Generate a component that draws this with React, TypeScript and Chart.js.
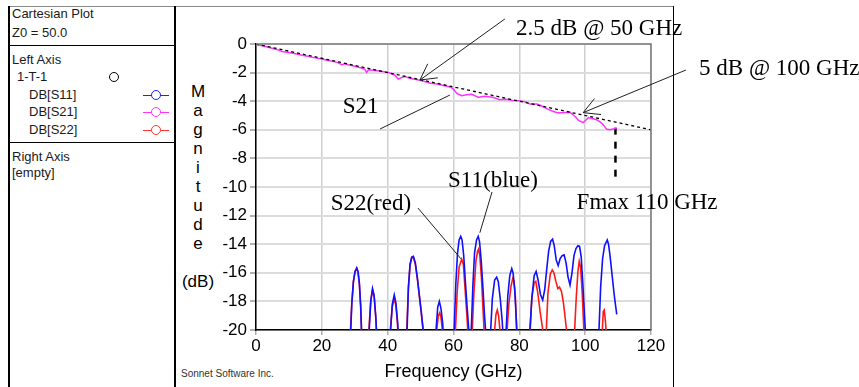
import React, { useEffect, useRef } from "react";
import { Chart, registerables } from "chart.js";

Chart.register(...registerables);

// ---------------- data ----------------
const freqRange = [0, 120];
const freqStep = 20;
const dbRange = [-20, 0];
const dbStep = 2;

// DB[S21] (magenta)
const s21Freq = [0, 2, 4, 6, 8, 10, 12, 14, 16, 18, 20, 22, 24, 25, 26, 27, 28, 30, 32, 33, 33.6, 34.2, 36, 38, 40, 42, 43.2, 44.2, 45.3, 47, 49, 51, 53, 55, 57, 59, 60, 61, 62.5, 64, 65.5, 67.5, 69.6, 72, 74, 76, 78, 80, 82, 83.2, 85.3, 86.5, 88.3, 90, 91.5, 93, 95.4, 96.9, 98, 99.4, 100.3, 101, 103.5, 104.5, 105.5, 106.5, 107.5, 108.5, 109.6];
const s21Db = [-0.05, -0.12, -0.25, -0.36, -0.52, -0.6, -0.68, -0.78, -0.88, -0.97, -1.05, -1.15, -1.25, -1.32, -1.45, -1.38, -1.45, -1.55, -1.68, -1.75, -1.98, -1.8, -1.85, -1.9, -1.98, -2.15, -2.45, -2.35, -2.28, -2.42, -2.5, -2.6, -2.75, -2.8, -2.9, -3.0, -3.15, -3.45, -3.62, -3.55, -3.52, -3.72, -3.66, -3.73, -3.9, -3.86, -3.95, -3.97, -4.05, -4.2, -4.2, -4.3, -4.52, -4.68, -4.8, -4.8, -4.78, -5.05, -5.35, -5.5, -5.3, -5.15, -5.3, -5.45, -5.65, -5.95, -6.0, -5.95, -5.9];

// DB[S11] (blue) as [GHz, dB]
const s11Points = [
  [28.0, -30], [28.7, -20.5], [29.1, -18.2], [29.6, -16.6], [30.1, -15.9], [30.6, -15.65], [31.0, -15.9], [31.4, -16.7], [31.8, -18.3], [32.1, -20.3], [32.4, -30],
  [34.0, -30], [34.4, -20], [34.9, -17.9], [35.4, -17.1], [35.9, -17.6], [36.4, -19.1], [36.8, -21], [37.2, -30],
  [40.5, -30], [40.9, -20], [41.4, -18.2], [42.0, -17.55], [42.5, -18.1], [43.0, -19.4], [43.4, -21], [43.8, -30],
  [45.5, -30], [45.9, -20], [46.3, -17], [46.8, -15.4], [47.3, -14.9], [47.8, -14.85], [48.4, -15.3], [49.0, -16.3], [49.6, -17.5], [50.2, -18.7], [50.7, -19.8], [51.1, -21], [51.5, -30],
  [54.2, -30], [54.7, -20], [55.2, -18.4], [55.7, -18.0], [56.2, -18.5], [56.7, -19.5], [57.1, -21], [57.5, -30],
  [59.8, -30], [60.2, -20], [60.7, -16.8], [61.2, -14.7], [61.7, -13.7], [62.2, -13.45], [62.6, -13.7], [63.1, -14.8], [63.6, -16.6], [64.2, -18.6], [64.8, -20.5],
  [65.0, -24], [65.4, -20], [65.9, -16.8], [66.4, -14.6], [67.0, -13.7], [67.5, -13.45], [67.9, -13.8], [68.4, -15.1], [68.9, -16.9], [69.4, -18.9], [69.9, -20.5], [70.3, -30],
  [71.0, -30], [71.3, -20], [71.8, -17.8], [72.5, -16.5], [73.1, -16.3], [73.6, -16.6], [74.2, -17.8], [74.8, -19.4], [75.2, -21], [75.6, -24],
  [76.0, -20], [76.5, -17.6], [77.1, -16.2], [77.7, -15.7], [78.1, -16.0], [78.6, -17.2], [79.1, -19.4], [79.4, -21], [79.8, -30],
  [82.8, -30], [83.2, -20], [83.8, -17.8], [84.5, -16.2], [85.1, -15.9], [85.7, -16.5], [86.4, -17.5], [87.1, -17.9], [87.7, -17.2], [88.3, -15.8], [88.9, -14.5], [89.5, -13.8], [90.1, -13.65], [90.6, -14.1], [91.2, -15.1], [91.8, -15.5], [92.4, -15.0], [93.0, -14.8], [93.6, -14.75], [94.2, -15.3], [94.8, -16.3], [95.4, -16.85], [96.0, -16.0], [96.6, -14.8], [97.2, -14.3], [97.8, -14.1], [98.3, -14.15], [98.8, -14.9], [99.3, -16.8], [99.8, -19], [100.3, -21], [100.7, -30],
  [103.8, -30], [104.2, -20], [104.7, -17], [105.3, -15], [105.9, -14.1], [106.3, -13.9], [106.7, -13.7], [107.1, -14.0], [107.6, -14.9], [108.2, -16.2], [108.8, -17.5], [109.3, -18.4], [109.6, -18.9],
];

// DB[S22] (red) as [GHz, dB]
const s22Points = [
  [28.0, -30], [28.6, -20.5], [29.1, -18.1], [29.6, -16.6], [30.1, -15.9], [30.6, -15.7], [31.0, -16.0], [31.4, -16.8], [31.8, -18.4], [32.1, -20.4], [32.4, -30],
  [34.0, -30], [34.3, -20], [34.8, -18.1], [35.4, -17.2], [35.9, -17.7], [36.4, -19.2], [36.8, -21], [37.2, -30],
  [40.5, -30], [40.8, -20], [41.4, -18.4], [42.0, -17.8], [42.5, -18.3], [43.0, -19.6], [43.3, -21], [43.8, -30],
  [45.5, -30], [45.8, -20], [46.3, -17.1], [46.8, -15.5], [47.3, -14.95], [47.8, -14.9], [48.4, -15.4], [49.0, -16.4], [49.6, -17.6], [50.2, -18.8], [50.7, -19.9], [51.1, -21], [51.5, -30],
  [54.5, -30], [54.9, -20], [55.4, -19.0], [55.8, -18.8], [56.2, -19.1], [56.7, -20.2], [57.1, -30],
  [60.3, -30], [60.6, -20], [61.1, -17.4], [61.7, -15.6], [62.5, -15.05], [63.0, -15.4], [63.5, -17.1], [64.1, -19.1], [64.6, -21], [65.0, -30],
  [65.4, -30], [65.7, -20], [66.2, -17.4], [66.8, -15.2], [67.3, -14.5], [67.6, -14.35], [68.0, -14.8], [68.5, -16.4], [69.0, -18.7], [69.4, -20.5], [69.8, -30],
  [72.2, -30], [72.5, -20], [72.9, -18.9], [73.3, -18.6], [73.7, -19.0], [74.1, -20], [74.5, -30],
  [76.0, -30], [76.3, -20], [76.8, -18.2], [77.5, -16.9], [78.0, -16.4], [78.4, -16.6], [78.8, -17.7], [79.2, -20], [79.6, -30],
  [83.0, -30], [83.3, -20], [83.8, -17.7], [84.5, -16.7], [85.0, -16.6], [85.6, -17.4], [86.3, -18.7], [87.0, -19.8], [87.6, -21], [87.9, -30],
  [88.0, -30], [88.2, -20], [88.7, -17.4], [89.4, -16.1], [90.0, -15.8], [90.5, -16.0], [91.1, -16.6], [91.7, -17.1], [92.2, -17.0], [92.8, -17.3], [93.4, -18.1], [94.0, -19.3], [94.6, -20.5], [94.9, -30],
  [96.5, -30], [96.8, -20], [97.3, -17.7], [97.8, -15.9], [98.2, -15.2], [98.6, -15.6], [99.1, -17.4], [99.6, -20], [100.0, -30],
  [105.0, -30], [105.2, -20], [105.5, -18.7], [105.8, -18.6], [106.2, -19.5], [106.5, -20.5], [106.8, -30],
];

// reference loss line: 2.5 dB @ 50 GHz, 5 dB @ 100 GHz
const refFreq = [0, 120];
const refDb = [0, -6];

// Fmax marker
const fmaxFreq = [109.2, 109.2];
const fmaxDb = [-5.85, -9.4];

// annotations, in (GHz, dB)
const notes = [
  { text: "2.5 dB @ 50 GHz", at: [79.0, 1.05], align: "left", from: [75.6, 1.75], to: [49.8, -2.52], arrow: true },
  { text: "5 dB @ 100 GHz", at: [134.6, -1.75], align: "left", from: [130.6, -1.82], to: [99.4, -4.8], arrow: true },
  { text: "S21", at: [31.8, -4.4], align: "center", from: [37.7, -5.94], to: [58.9, -3.57], arrow: false },
  { text: "S22(red)", at: [34.9, -11.2], align: "center", from: [49.2, -11.47], to: [62.3, -15.03], arrow: false },
  { text: "S11(blue)", at: [72.0, -9.6], align: "center", from: [71.7, -10.35], to: [68.0, -13.2], arrow: false },
  { text: "Fmax 110 GHz", at: [97.4, -11.1], align: "left", from: null, to: null, arrow: false },
];

const yTitleLetters = ["M", "a", "g", "n", "i", "t", "u", "d", "e", "", "(dB)"];

const SANS = "'Liberation Sans', Arial, sans-serif";
const SERIF = "'Liberation Serif', 'Times New Roman', serif";

const pairs = (f: number[], v: number[]) => f.map((x, i) => ({ x, y: v[i] }));
const pts = (p: number[][]) => p.map(([x, y]) => ({ x, y }));

const notesPlugin = {
  id: "notes",
  afterDraw(chart: any) {
    const { ctx, chartArea: ca, scales } = chart;
    const xs = scales.x;
    const ys = scales.y;
    ctx.save();
    // top / right frame
    ctx.strokeStyle = "#7a7a7a";
    ctx.lineWidth = 1.5;
    ctx.beginPath();
    ctx.moveTo(ca.left, ca.top);
    ctx.lineTo(ca.right, ca.top);
    ctx.lineTo(ca.right, ca.bottom);
    ctx.stroke();

    ctx.strokeStyle = "#202020";
    ctx.lineWidth = 1;
    ctx.fillStyle = "#000";
    ctx.font = `23px ${SERIF}`;
    ctx.textBaseline = "middle";
    for (const n of notes) {
      if (n.from && n.to) {
        const x1 = xs.getPixelForValue(n.from[0]);
        const y1 = ys.getPixelForValue(n.from[1]);
        const x2 = xs.getPixelForValue(n.to[0]);
        const y2 = ys.getPixelForValue(n.to[1]);
        ctx.beginPath();
        ctx.moveTo(x1, y1);
        ctx.lineTo(x2, y2);
        ctx.stroke();
        if (n.arrow) {
          const ang = Math.atan2(y1 - y2, x1 - x2);
          const len = 18;
          for (const d of [-0.5, 0.5]) {
            ctx.beginPath();
            ctx.moveTo(x2, y2);
            ctx.lineTo(x2 + len * Math.cos(ang + d), y2 + len * Math.sin(ang + d));
            ctx.stroke();
          }
        }
      }
      ctx.textAlign = n.align as CanvasTextAlign;
      ctx.fillText(n.text, xs.getPixelForValue(n.at[0]), ys.getPixelForValue(n.at[1]));
    }
    ctx.restore();
  },
};

function ChartCanvas() {
  const ref = useRef<HTMLCanvasElement | null>(null);
  useEffect(() => {
    if (!ref.current) return;
    const chart = new Chart(ref.current, {
      type: "line",
      data: {
        datasets: [
          {
            label: "ref",
            data: pairs(refFreq, refDb),
            borderColor: "#000",
            borderWidth: 1.3,
            borderDash: [3, 3],
            pointRadius: 0,
          },
          {
            label: "DB[S11]",
            data: pts(s11Points),
            borderColor: "#1010ff",
            borderWidth: 1.6,
            pointRadius: 0,
          },
          {
            label: "DB[S22]",
            data: pts(s22Points),
            borderColor: "#ff1a1a",
            borderWidth: 1.6,
            pointRadius: 0,
          },
          {
            label: "DB[S21]",
            data: pairs(s21Freq, s21Db),
            borderColor: "#ff33ff",
            borderWidth: 1.5,
            pointRadius: 0,
          },
          {
            label: "Fmax",
            data: pairs(fmaxFreq, fmaxDb),
            borderColor: "#000",
            borderWidth: 2.5,
            borderDash: [7, 7],
            pointRadius: 0,
          },
        ],
      },
      options: {
        responsive: false,
        animation: false,
        devicePixelRatio: 1,
        layout: { padding: { left: 0, right: 208, top: 44, bottom: 0 } },
        plugins: { legend: { display: false }, tooltip: { enabled: false } },
        elements: { line: { tension: 0 } },
        scales: {
          x: {
            type: "linear",
            min: freqRange[0],
            max: freqRange[1],
            ticks: { stepSize: freqStep, color: "#000", font: { family: SANS, size: 17 }, padding: 1, maxRotation: 0 },
            grid: { color: "#cfcfcf", lineWidth: 1.5, tickLength: 5, tickColor: "#b0b0b0" },
            border: { color: "#000", width: 1.5 },
            title: { display: true, text: "Frequency (GHz)", color: "#000", font: { family: SANS, size: 18 }, padding: { top: 0, bottom: 4 } },
            afterFit: (s: any) => { s.height = 57; },
          },
          y: {
            type: "linear",
            min: dbRange[0],
            max: dbRange[1],
            ticks: { stepSize: dbStep, color: "#000", font: { family: SANS, size: 17 }, padding: 3 },
            grid: { color: "#dcdcdc", lineWidth: 2, tickLength: 6, tickColor: "#b0b0b0" },
            border: { color: "#000", width: 1.5 },
            afterFit: (s: any) => { s.width = 80; },
          },
        },
      },
      plugins: [notesPlugin],
    });
    return () => chart.destroy();
  }, []);
  return (
    <canvas
      ref={ref}
      width={683}
      height={387}
      style={{ position: "absolute", left: 176, top: 0, width: 683, height: 387 }}
    />
  );
}

const panelText = (text: string, left: number, cy: number) => (
  <div
    key={text + cy}
    style={{ position: "absolute", left, top: cy - 8, height: 16, lineHeight: "16px", fontSize: 13, fontFamily: SANS, color: "#1a1a1a", whiteSpace: "nowrap" }}
  >
    {text}
  </div>
);

const legendIcon = (color: string, cy: number) => (
  <div key={color} style={{ position: "absolute", left: 143, top: cy - 5, width: 26, height: 10 }}>
    <div style={{ position: "absolute", left: 0, top: 4.5, width: 26, height: 1, background: color }} />
    <div style={{ position: "absolute", left: 8, top: 0, width: 8, height: 8, borderRadius: "50%", border: `1px solid ${color}`, background: "#fff" }} />
  </div>
);

export default function App() {
  return (
    <div style={{ position: "absolute", left: 0, top: 0, width: 859, height: 387, background: "#fff", overflow: "hidden" }}>
      {/* frame lines */}
      <div style={{ position: "absolute", left: 8, top: 6, width: 666, height: 1, background: "#8a8a8a" }} />
      <div style={{ position: "absolute", left: 8, top: 6, width: 1.5, height: 381, background: "#000" }} />
      <div style={{ position: "absolute", left: 174, top: 6, width: 1.5, height: 381, background: "#000" }} />
      <div style={{ position: "absolute", left: 673, top: 6, width: 1.2, height: 381, background: "#000" }} />
      <div style={{ position: "absolute", left: 8, top: 45, width: 167, height: 1.2, background: "#000" }} />
      <div style={{ position: "absolute", left: 8, top: 142, width: 167, height: 1.2, background: "#000" }} />

      {panelText("Cartesian Plot", 12, 14)}
      {panelText("Z0 = 50.0", 12, 33)}
      {panelText("Left Axis", 12, 60)}
      {panelText("1-T-1", 17, 77)}
      <div style={{ position: "absolute", left: 109, top: 72, width: 8, height: 8, borderRadius: "50%", border: "1px solid #000" }} />
      {panelText("DB[S11]", 29, 95)}
      {panelText("DB[S21]", 29, 112)}
      {panelText("DB[S22]", 29, 130)}
      {legendIcon("#2020ff", 95)}
      {legendIcon("#ff33ff", 112)}
      {legendIcon("#ff3333", 130)}
      {panelText("Right Axis", 12, 157)}
      {panelText("[empty]", 12, 173)}

      {/* y axis title, stacked letters */}
      <div style={{ position: "absolute", left: 178, top: 82, width: 40, fontFamily: SANS, fontSize: 17, lineHeight: "19px", textAlign: "center", color: "#000" }}>
        {yTitleLetters.map((l, i) => (
          <div key={i} style={{ height: 19 }}>{l}</div>
        ))}
      </div>

      <div style={{ position: "absolute", left: 181, top: 368, fontFamily: SANS, fontSize: 10, color: "#333", whiteSpace: "nowrap" }}>
        Sonnet Software Inc.
      </div>

      <ChartCanvas />
    </div>
  );
}
